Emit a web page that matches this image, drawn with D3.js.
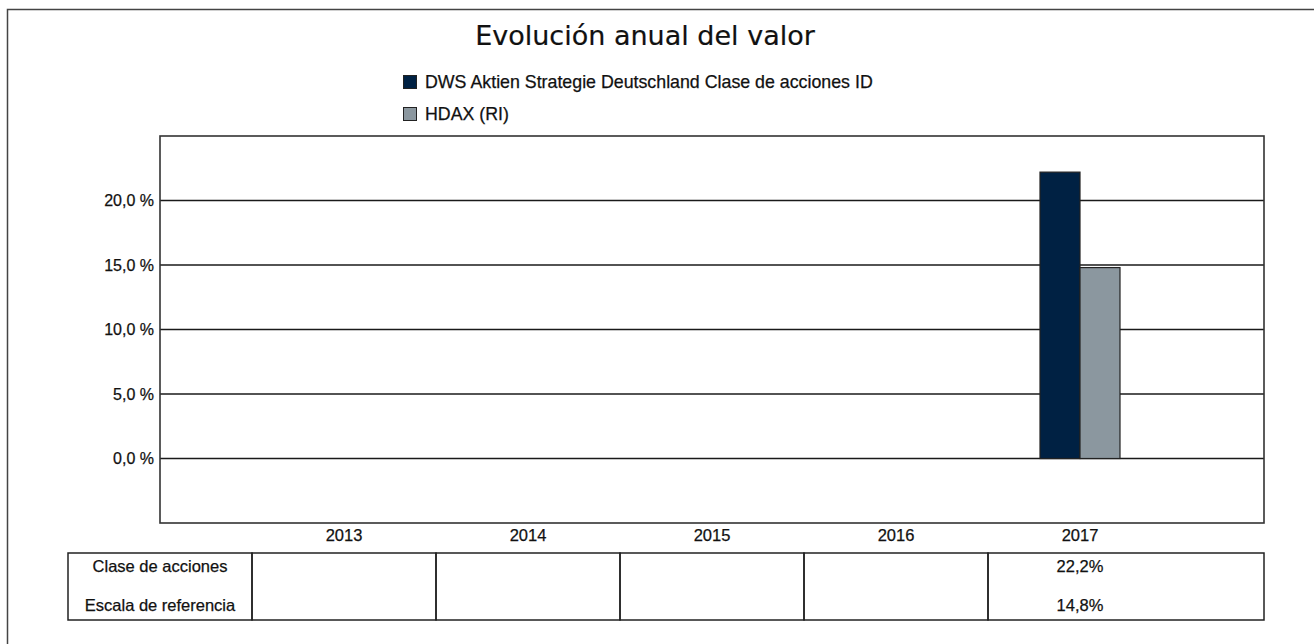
<!DOCTYPE html>
<head>
<meta charset="UTF-8">
<script src="https://d3js.org/d3.v7.min.js"></script>
<style>
  body { margin: 0; background: #fff; }
  text { font-family: "Liberation Sans", Arial, Helvetica, sans-serif; fill: #111; stroke: #111; stroke-width: 0.25px; }
  .title { font-family: "DejaVu Sans", Verdana, sans-serif; stroke-width: 0.2px; }
</style>
</head>
<body>
<div id="chart"></div>
<script>
  // data
  var years = ["2013", "2014", "2015", "2016", "2017"];
  var fundValues = [null, null, null, null, 22.2];
  var indexValues = [null, null, null, null, 14.8];
  var seriesNames = ["DWS Aktien Strategie Deutschland Clase de acciones ID", "HDAX (RI)"];
  var rowLabels = ["Clase de acciones", "Escala de referencia"];
  var yTicks = [0, 5, 10, 15, 20];

  var colors = ["#002143", "#8b979f"];

  var width = 1314, height = 644;
  var plot = {left: 160, right: 1264, top: 136, bottom: 523};

  var svg = d3.select("#chart").append("svg")
      .attr("width", width)
      .attr("height", height);

  // outer frame
  svg.append("rect")
      .attr("x", 7.5).attr("y", 9.5)
      .attr("width", width).attr("height", height)
      .attr("fill", "none").attr("stroke", "#444").attr("stroke-width", 1.5);

  var x = d3.scalePoint().domain(years).range([plot.left, plot.right]).padding(1);
  var step = x.step();
  var y = d3.scaleLinear().domain([-5, 25]).range([plot.bottom, plot.top]);
  var xs = d3.scaleBand().domain([0, 1]).range([-40, 40]);

  svg.append("text").attr("class", "title")
      .attr("x", 645).attr("y", 45)
      .attr("text-anchor", "middle")
      .style("font-size", "27px")
      .text("Evolución anual del valor");

  // legend
  var leg = svg.selectAll(".leg").data(seriesNames).enter().append("g")
      .attr("transform", function(d, i) { return "translate(403," + (75 + i * 32) + ")"; });
  leg.append("rect").attr("x", 0.5).attr("y", 0.5).attr("width", 13).attr("height", 13)
      .attr("fill", function(d, i) { return colors[i]; })
      .attr("stroke", "#222");
  leg.append("text").attr("x", 22).attr("y", 13)
      .style("font-size", "17.8px")
      .text(function(d) { return d; });

  // gridlines
  svg.append("g").selectAll("line").data(yTicks).enter().append("line")
      .attr("x1", plot.left).attr("x2", plot.right)
      .attr("y1", function(d) { return y(d); }).attr("y2", function(d) { return y(d); })
      .attr("stroke", "#1a1a1a").attr("stroke-width", 1.5);

  // y labels
  svg.append("g").selectAll("text").data(yTicks).enter().append("text")
      .attr("x", plot.left - 6).attr("y", function(d) { return y(d); })
      .attr("dy", "0.35em").attr("text-anchor", "end")
      .style("font-size", "16px")
      .text(function(d) { return d3.format(".1f")(d).replace(".", ",") + " %"; });

  // bars
  var groups = svg.append("g").selectAll("g").data(years).enter().append("g")
      .attr("transform", function(d) { return "translate(" + x(d) + ",0)"; });
  groups.selectAll("rect")
      .data(function(d, i) { return [fundValues[i], indexValues[i]]; })
      .enter().filter(function(v) { return v != null; }).append("rect")
      .attr("x", function(v, j) { return xs(j); })
      .attr("width", xs.bandwidth())
      .attr("y", function(v) { return y(Math.max(0, v)); })
      .attr("height", function(v) { return Math.abs(y(v) - y(0)); })
      .attr("fill", function(v, j) { return colors[j]; })
      .attr("stroke", "#222").attr("stroke-width", 1.2);

  // plot frame
  svg.append("rect")
      .attr("x", plot.left).attr("y", plot.top)
      .attr("width", plot.right - plot.left).attr("height", plot.bottom - plot.top)
      .attr("fill", "none").attr("stroke", "#333").attr("stroke-width", 1.6);

  // year labels
  svg.append("g").selectAll("text").data(years).enter().append("text")
      .attr("x", function(d) { return x(d); }).attr("y", 541)
      .attr("text-anchor", "middle")
      .style("font-size", "16.5px")
      .text(function(d) { return d; });

  // table below
  var tTop = 553, tBottom = 620, labelLeft = plot.left - 92;
  var table = svg.append("g");
  var cols = [{l: labelLeft, r: x(years[0]) - step / 2}].concat(years.map(function(d, i) {
    return {l: x(d) - step / 2, r: i === years.length - 1 ? plot.right : x(d) + step / 2};
  }));
  table.selectAll("rect").data(cols).enter().append("rect")
      .attr("x", function(c) { return c.l; }).attr("y", tTop)
      .attr("width", function(c) { return c.r - c.l; }).attr("height", tBottom - tTop)
      .attr("fill", "none").attr("stroke", "#222").attr("stroke-width", 1.5);

  var rowY = [572, 611];
  table.selectAll(".rl").data(rowLabels).enter().append("text")
      .attr("x", (cols[0].l + cols[0].r) / 2).attr("y", function(d, i) { return rowY[i]; })
      .attr("text-anchor", "middle").style("font-size", "16.5px")
      .text(function(d) { return d; });

  [fundValues, indexValues].forEach(function(vals, r) {
    table.append("g").selectAll("text").data(years).enter()
      .filter(function(d, i) { return vals[i] != null; }).append("text")
      .attr("x", function(d) { return x(d); }).attr("y", rowY[r])
      .attr("text-anchor", "middle").style("font-size", "16.5px")
      .text(function(d) { return d3.format(".1f")(vals[years.indexOf(d)]).replace(".", ",") + "%"; });
  });
</script>
</body>
